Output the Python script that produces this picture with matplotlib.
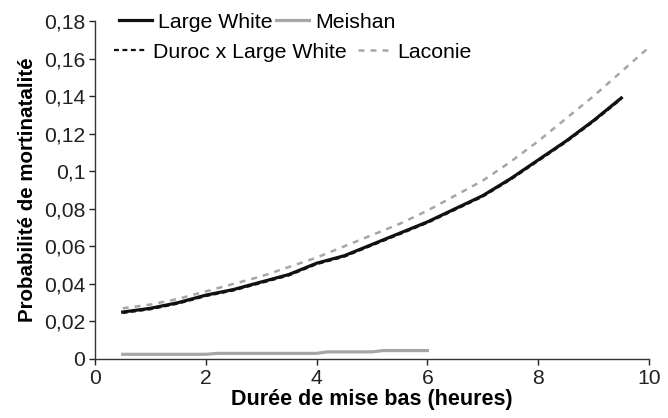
import matplotlib
matplotlib.use("Agg")
import matplotlib.pyplot as plt
from matplotlib.ticker import FuncFormatter

plt.rcParams["font.family"] = ["Liberation Sans", "DejaVu Sans"]

# durée de mise bas (heures)
hours = [0.5, 1, 1.5, 2, 2.5, 3, 3.5, 4, 4.5, 5, 5.5, 6, 6.5, 7, 7.5, 8, 8.5, 9, 9.5]
large_white = [0.025, 0.027, 0.030, 0.034, 0.037, 0.041, 0.045, 0.051, 0.055,
               0.061, 0.067, 0.073, 0.080, 0.087, 0.096, 0.106, 0.116, 0.127, 0.139]
duroc_lw = [0.0245, 0.0265, 0.0295, 0.0335, 0.0365, 0.0405, 0.0445, 0.0505, 0.0545,
            0.0605, 0.0665, 0.0725, 0.0795, 0.0865, 0.0955, 0.1055, 0.1155, 0.1265, 0.1385]

hours_laconie = [0.5, 1, 1.5, 2, 2.5, 3, 3.5, 4, 4.5, 5, 5.5, 6, 6.5, 7, 7.5, 8,
                 8.5, 9, 9.5, 10]
laconie = [0.027, 0.029, 0.032, 0.036, 0.040, 0.044, 0.049, 0.054, 0.060, 0.066,
           0.072, 0.079, 0.087, 0.095, 0.105, 0.116, 0.128, 0.140, 0.153, 0.166]

hours_meishan = [0.5, 2, 2.2, 4, 4.2, 5, 5.2, 6]
meishan = [0.0025, 0.0025, 0.003, 0.003, 0.0038, 0.0038, 0.0045, 0.0045]

x_ticks = [0, 2, 4, 6, 8, 10]
y_ticks = [0, 0.02, 0.04, 0.06, 0.08, 0.1, 0.12, 0.14, 0.16, 0.18]

W, H = 668, 418
fig = plt.figure(figsize=(W / 100, H / 100), dpi=100)
ax = fig.add_axes([95 / W, 1 - 359 / H, (649 - 95) / W, (359 - 21) / H])

lw_line, = ax.plot(hours, large_white, color="#111111", lw=2.3, label="Large White")
ms_line, = ax.plot(hours_meishan, meishan, color="#a6a6a6", lw=2.3, label="Meishan")
dr_line, = ax.plot(hours, duroc_lw, color="#111111", lw=1.6, ls=(0, (2.2, 1.6)),
                   label="Duroc x Large White")
lc_line, = ax.plot(hours_laconie, laconie, color="#a6a6a6", lw=1.8,
                   ls=(0, (2.4, 2.4)), label="Laconie")

ax.set_xlim(0, 10)
ax.set_ylim(0, 0.18)
ax.set_xticks(x_ticks)
ax.set_yticks(y_ticks)
ax.yaxis.set_major_formatter(FuncFormatter(lambda v, _: f"{v:g}".replace(".", ",")))
ax.tick_params(direction="out", length=4, width=1, labelsize=15.2, colors="#222222",
               pad=3)

for side in ("top", "right"):
    ax.spines[side].set_visible(False)
for side in ("left", "bottom"):
    ax.spines[side].set_color("#333333")
    ax.spines[side].set_linewidth(1)

ax.set_xlabel("Durée de mise bas (heures)", fontsize=15.5, fontweight="bold",
              labelpad=1)
ax.set_ylabel("Probabilité de mortinatalité", fontsize=14.8, fontweight="bold",
              labelpad=5)

# two legend rows, each laid out on its own like the original
leg_kw = dict(loc="center left", ncol=2, frameon=False, fontsize=15.3,
              handlelength=1.55, handletextpad=0.3,
              borderpad=0, borderaxespad=0, bbox_transform=fig.transFigure)
leg1 = fig.legend(handles=[lw_line, ms_line], bbox_to_anchor=(119 / W, 1 - 22 / H),
                  columnspacing=0.15, **leg_kw)
leg2 = fig.legend(handles=[dr_line, lc_line], bbox_to_anchor=(114 / W, 1 - 52 / H),
                  columnspacing=0.5, **leg_kw)

fig.savefig("out.png", dpi=100)
